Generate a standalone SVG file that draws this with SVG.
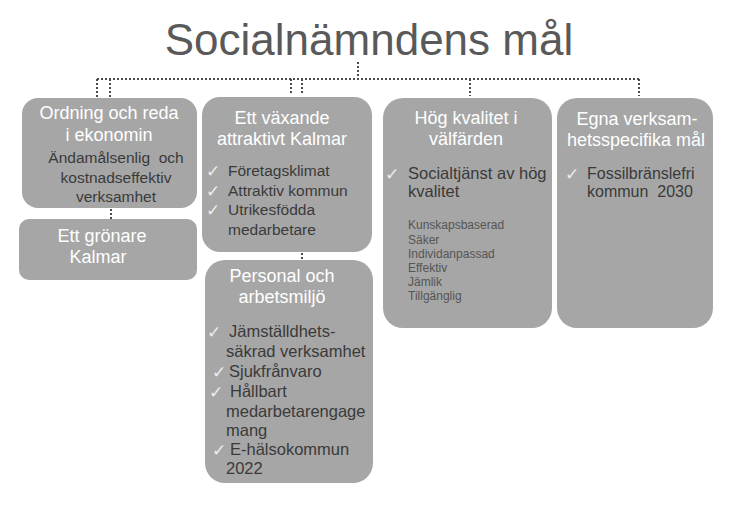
<svg xmlns="http://www.w3.org/2000/svg" width="739" height="510" viewBox="0 0 739 510">
<style>
.box{fill:#a6a6a6}
.hd{font-family:"Liberation Sans",Arial,sans-serif;font-size:18px;fill:#ffffff;text-anchor:middle}
.bd{font-family:"Liberation Sans",Arial,sans-serif;fill:#3a3a3a;white-space:pre}
.sm{font-family:"Liberation Sans",Arial,sans-serif;font-size:12px;fill:#555555}
.ck{font-family:"DejaVu Sans",sans-serif;font-size:17px;fill:#ececec}
.dot{fill:none;stroke:#4a4a4a;stroke-width:2;stroke-dasharray:2 2}
</style>
<rect width="739" height="510" fill="#ffffff"/>
<text id="title" x="369" y="55" font-family="Liberation Sans, Arial, sans-serif" font-size="44" fill="#595959" text-anchor="middle">Socialnämndens mål</text>
<g id="connectors">
<path class="dot" d="M358 62V79M97 79H640M97 79V97M110 79V97M291 79V94M302 79V94M470 79V96M639 79V96M111 209V219M302 253V259"/>
</g>
<g id="ekonomi">
<rect class="box" x="22" y="98" width="175" height="110" rx="16"/>
<text class="hd" x="109" y="119">Ordning och reda</text>
<text class="hd" x="109" y="141">i ekonomin</text>
<text class="bd" font-size="15.5" text-anchor="middle" xml:space="preserve"><tspan x="116" y="163">Ändamålsenlig  och</tspan><tspan x="116" y="183">kostnadseffektiv</tspan><tspan x="116" y="202">verksamhet</tspan></text>
</g>
<g id="gronare">
<rect class="box" x="19" y="219" width="178" height="61" rx="10"/>
<text class="hd" x="102" y="242">Ett grönare</text>
<text class="hd" x="98" y="263">Kalmar</text>
</g>
<g id="vaxande">
<rect class="box" x="202" y="97" width="170" height="155" rx="18"/>
<text class="hd" x="282" y="124">Ett växande</text>
<text class="hd" x="282" y="145">attraktivt Kalmar</text>
<text class="ck" x="206" y="177">✓</text>
<text class="ck" x="206" y="197">✓</text>
<text class="ck" x="206" y="216">✓</text>
<text class="bd" font-size="15.5"><tspan x="228" y="176">Företagsklimat</tspan><tspan x="228" y="196">Attraktiv kommun</tspan><tspan x="228" y="215">Utrikesfödda</tspan><tspan x="228" y="235">medarbetare</tspan></text>
</g>
<g id="personal">
<rect class="box" x="205" y="260" width="168" height="223" rx="20"/>
<text class="hd" x="282" y="282">Personal och</text>
<text class="hd" x="282" y="303">arbetsmiljö</text>
<text class="ck" x="207" y="338">✓</text>
<text class="ck" x="212" y="378">✓</text>
<text class="ck" x="209" y="398">✓</text>
<text class="ck" x="212" y="456">✓</text>
<text class="bd" font-size="16.5"><tspan x="229" y="337">Jämställdhets-</tspan><tspan x="226" y="357">säkrad verksamhet</tspan><tspan x="229" y="377">Sjukfrånvaro</tspan><tspan x="230" y="397">Hållbart</tspan><tspan x="226" y="417">medarbetarengage</tspan><tspan x="226" y="436">mang</tspan><tspan x="230" y="455">E-hälsokommun</tspan><tspan x="226" y="474">2022</tspan></text>
</g>
<g id="kvalitet">
<rect class="box" x="383" y="98" width="169" height="230" rx="20"/>
<text class="hd" x="466" y="124">Hög kvalitet i</text>
<text class="hd" x="466" y="145">välfärden</text>
<text class="ck" x="385" y="180">✓</text>
<text class="bd" font-size="16.5"><tspan x="408" y="179">Socialtjänst av hög</tspan><tspan x="408" y="197">kvalitet</tspan></text>
<text class="sm"><tspan x="408" y="229">Kunskapsbaserad</tspan><tspan x="408" y="244">Säker</tspan><tspan x="408" y="258">Individanpassad</tspan><tspan x="408" y="272">Effektiv</tspan><tspan x="408" y="286">Jämlik</tspan><tspan x="408" y="300">Tillgänglig</tspan></text>
</g>
<g id="egna">
<rect class="box" x="557" y="98" width="156" height="230" rx="20"/>
<text class="hd" x="637" y="125">Egna verksam-</text>
<text class="hd" x="636" y="146">hetsspecifika mål</text>
<text class="ck" x="565" y="180">✓</text>
<text class="bd" font-size="16" xml:space="preserve"><tspan x="587" y="179">Fossilbränslefri</tspan><tspan x="587" y="197">kommun  2030</tspan></text>
</g>
</svg>
